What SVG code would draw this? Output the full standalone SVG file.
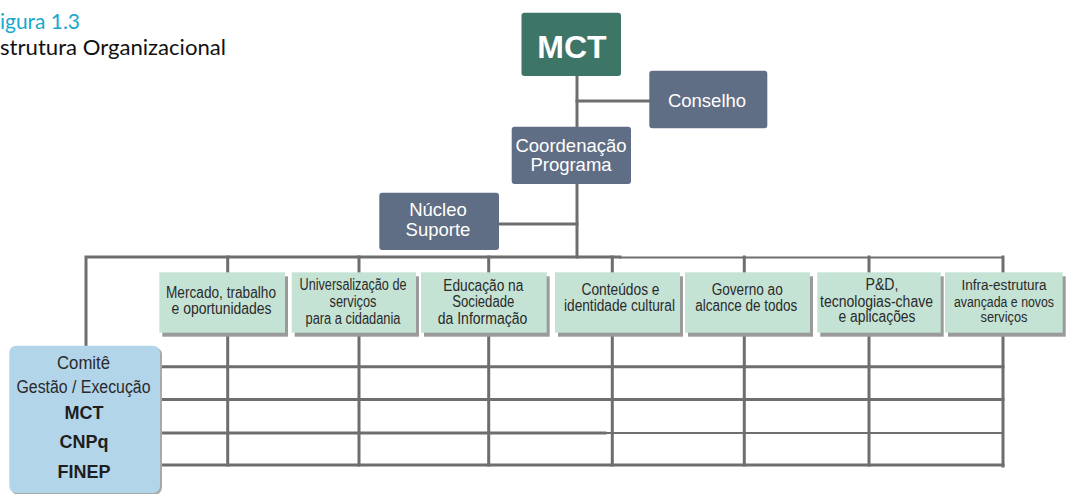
<svg xmlns="http://www.w3.org/2000/svg" width="1068" height="494" viewBox="0 0 1068 494">
<style>
.ln{stroke:#6e6e6e;stroke-width:3;fill:none;stroke-linecap:square}
.thin{stroke-width:1.8}
.slate{fill:#5f6e84}
.mct{fill:#3d7567}
.mint{fill:#c5e3d5}
.shadow{fill:#9a9a9a}
.wt{fill:#ffffff;font-family:"Liberation Sans",Arial,sans-serif;font-size:18.5px;text-anchor:middle}
.gt{fill:#2a2a2a;font-family:"Liberation Sans",Arial,sans-serif;font-size:16px;text-anchor:middle}
.sm{font-size:14px}
.ct{fill:#2a2a2a;font-family:"Liberation Sans",Arial,sans-serif;font-size:18px;text-anchor:middle}
.cb{fill:#1e1e1e;font-family:"Liberation Sans",Arial,sans-serif;font-size:18px;font-weight:bold;text-anchor:middle}
.hd{font-family:Lato,"Open Sans",sans-serif;font-size:21px}
</style>
<rect width="1068" height="494" fill="#ffffff"/>
<g id="title">
<text class="hd" x="0" y="29" fill="#1aa7cc" textLength="80" lengthAdjust="spacingAndGlyphs">igura 1.3</text>
<text class="hd" x="0" y="55" fill="#111111" textLength="226" lengthAdjust="spacingAndGlyphs">strutura Organizacional</text>
</g>
<g id="connectors">
<path class="ln" d="M577,76 V257"/>
<path class="ln" d="M577,101 H649"/>
<path class="ln" d="M499,224 H577"/>
<path class="ln" d="M86,346 V257 H620"/>
<path class="ln thin" d="M620,257.5 H1003"/>
<path class="ln" d="M227.7,257 V465 M359,257 V465 M488.7,257 V465 M612.3,257 V465 M744.3,257 V465 M869,257 V465 M1003,257 V466"/>
</g>
<g id="grid">
<path class="ln" d="M160,366.7 H1003 M160,399.5 H1003 M160,433 H605 M160,465 H1003"/>
<path class="ln thin" d="M605,433 H1003"/>
</g>
<g id="node-mct">
<rect class="mct" x="521.5" y="12.7" width="99.5" height="63.3" rx="3"/>
<text x="572" y="57.5" fill="#ffffff" font-family="Liberation Sans,Arial,sans-serif" font-size="32" font-weight="bold" text-anchor="middle">MCT</text>
</g>
<g id="node-conselho">
<rect class="slate" x="649.3" y="70.7" width="118" height="57.6" rx="3"/>
<text class="wt" x="707" y="107.3">Conselho</text>
</g>
<g id="node-coordenacao">
<rect class="slate" x="511.7" y="126.7" width="119.3" height="57.3" rx="3"/>
<text class="wt" x="571" y="152">Coordenação</text>
<text class="wt" x="571" y="171">Programa</text>
</g>
<g id="node-nucleo">
<rect class="slate" x="379.3" y="192.7" width="119.7" height="57.3" rx="3"/>
<text class="wt" x="438" y="216">Núcleo</text>
<text class="wt" x="438" y="235.5">Suporte</text>
</g>
<g id="node-comite">
<rect x="11" y="347.5" width="151" height="147" rx="7" fill="#a9a9a9"/>
<rect x="9.3" y="345.7" width="150.7" height="147.3" rx="7" fill="#b2d5ea"/>
<text class="ct" x="83.5" y="369" textLength="53" lengthAdjust="spacingAndGlyphs">Comitê</text>
<text class="ct" x="83.5" y="392.7" textLength="134" lengthAdjust="spacingAndGlyphs">Gestão / Execução</text>
<text class="cb" x="84" y="419.3">MCT</text>
<text class="cb" x="84" y="448.3">CNPq</text>
<text class="cb" x="84" y="478.3">FINEP</text>
</g>
<g id="node-mercado">
<rect class="shadow" x="162.3" y="276.3" width="125.7" height="60.4"/>
<rect class="mint" x="159.3" y="272.3" width="125.7" height="60.4"/>
<text class="gt" x="221" y="298" textLength="110" lengthAdjust="spacingAndGlyphs">Mercado, trabalho</text>
<text class="gt" x="221.5" y="313.5" textLength="100" lengthAdjust="spacingAndGlyphs">e oportunidades</text>
</g>
<g id="node-universalizacao">
<rect class="shadow" x="294.7" y="276.3" width="124.3" height="60.4"/>
<rect class="mint" x="291.7" y="272.3" width="124.3" height="60.4"/>
<text class="gt" x="353" y="290" textLength="107" lengthAdjust="spacingAndGlyphs">Universalização de</text>
<text class="gt" x="353" y="307" textLength="47" lengthAdjust="spacingAndGlyphs">serviços</text>
<text class="gt" x="353" y="324" textLength="95" lengthAdjust="spacingAndGlyphs">para a cidadania</text>
</g>
<g id="node-educacao">
<rect class="shadow" x="424" y="276.3" width="125.7" height="60.4"/>
<rect class="mint" x="421" y="272.3" width="125.7" height="60.4"/>
<text class="gt" x="483.3" y="290.7" textLength="80" lengthAdjust="spacingAndGlyphs">Educação na</text>
<text class="gt" x="483.3" y="306.7" textLength="62" lengthAdjust="spacingAndGlyphs">Sociedade</text>
<text class="gt" x="482.5" y="324" textLength="89.5" lengthAdjust="spacingAndGlyphs">da Informação</text>
</g>
<g id="node-conteudos">
<rect class="shadow" x="558" y="276.3" width="125" height="60.4"/>
<rect class="mint" x="555" y="272.3" width="125" height="60.4"/>
<text class="gt" x="620.5" y="295" textLength="78" lengthAdjust="spacingAndGlyphs">Conteúdos e</text>
<text class="gt" x="619.5" y="310.7" textLength="111" lengthAdjust="spacingAndGlyphs">identidade cultural</text>
</g>
<g id="node-governo">
<rect class="shadow" x="688" y="276.3" width="125" height="60.4"/>
<rect class="mint" x="685" y="272.3" width="125" height="60.4"/>
<text class="gt" x="747.2" y="295" textLength="71" lengthAdjust="spacingAndGlyphs">Governo ao</text>
<text class="gt" x="746.2" y="310.7" textLength="102" lengthAdjust="spacingAndGlyphs">alcance de todos</text>
</g>
<g id="node-pd">
<rect class="shadow" x="820.3" y="276.3" width="123.4" height="60.4"/>
<rect class="mint" x="817.3" y="272.3" width="123.4" height="60.4"/>
<text class="gt" x="882" y="290" textLength="33" lengthAdjust="spacingAndGlyphs">P&amp;D,</text>
<text class="gt" x="876.5" y="306.7" textLength="113" lengthAdjust="spacingAndGlyphs">tecnologias-chave</text>
<text class="gt" x="877" y="321.7" textLength="77" lengthAdjust="spacingAndGlyphs">e aplicações</text>
</g>
<g id="node-infra">
<rect class="shadow" x="948" y="276.3" width="117.7" height="60.4"/>
<rect class="mint" x="945" y="272.3" width="117.7" height="60.4"/>
<text class="gt sm" x="1004" y="290" textLength="85" lengthAdjust="spacingAndGlyphs">Infra-estrutura</text>
<text class="gt sm" x="1004" y="306.7" textLength="100" lengthAdjust="spacingAndGlyphs">avançada e novos</text>
<text class="gt sm" x="1004" y="321.7" textLength="47" lengthAdjust="spacingAndGlyphs">serviços</text>
</g>
</svg>
